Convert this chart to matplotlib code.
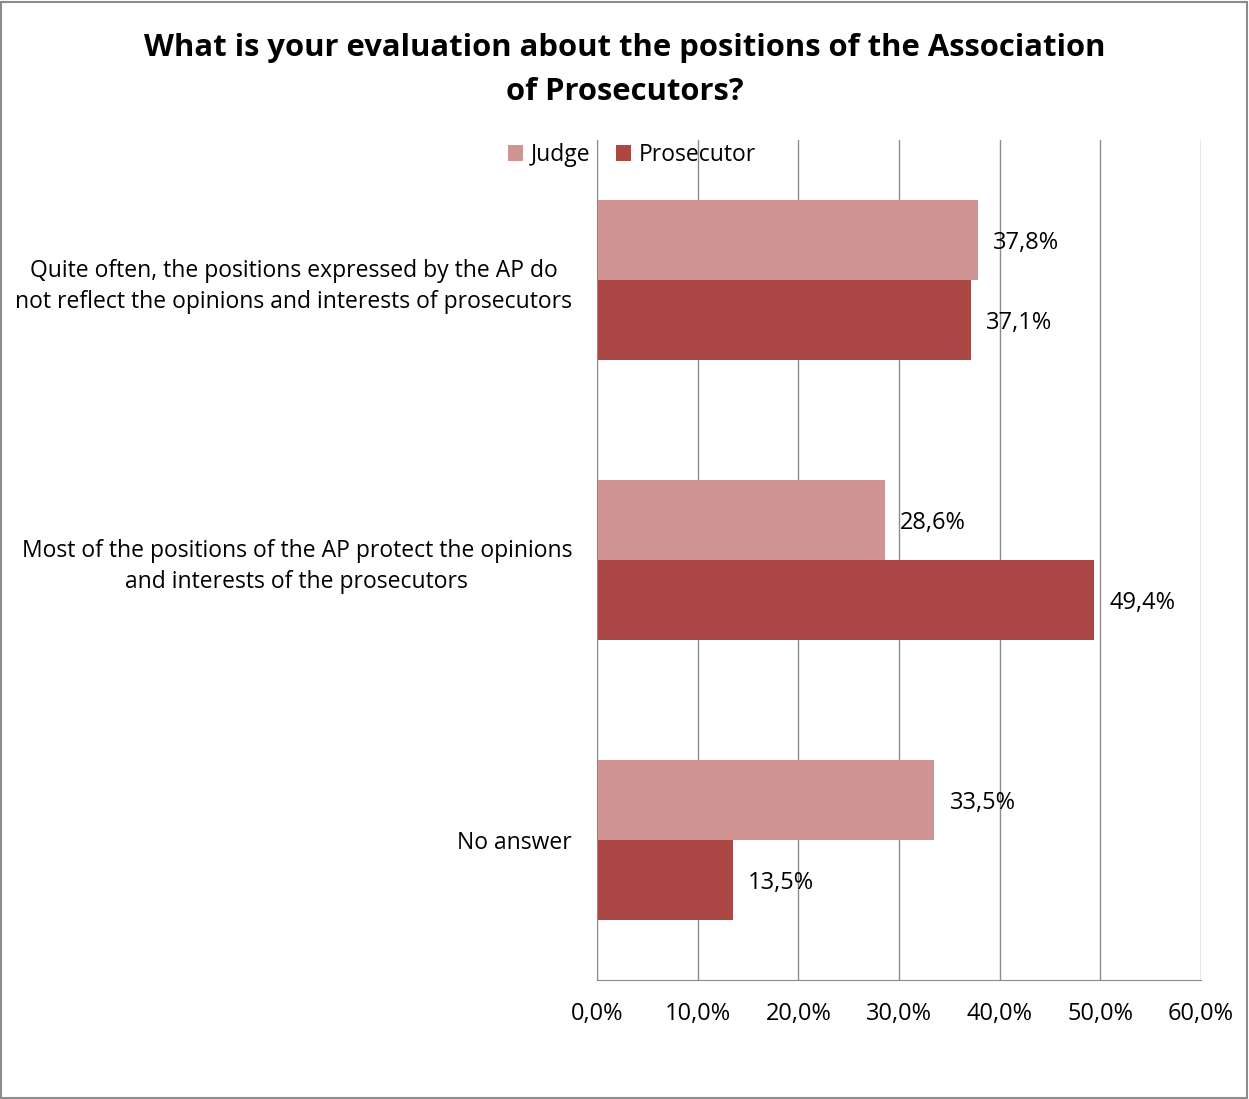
import matplotlib.pyplot as plt
import numpy as np
from matplotlib.patches import Rectangle

plt.rcParams['font.family'] = ['Open Sans', 'DejaVu Sans']

categories = ["Quite often, the positions expressed by the AP do\nnot reflect the opinions and interests of prosecutors",
              "Most of the positions of the AP protect the opinions\nand interests of the prosecutors",
              "No answer"]
judge = [37.8, 28.6, 33.5]
prosecutor = [37.1, 49.4, 13.5]
xticks = [0, 10, 20, 30, 40, 50, 60]

c_judge = '#D09493'
c_pros = '#AB4745'

fig = plt.figure(figsize=(12.49, 10.99), dpi=100)
fig.patches.append(Rectangle((0.001, 0.001), 0.997, 0.997, transform=fig.transFigure,
                             fill=False, edgecolor='#8c8c8c', linewidth=1.5))
ax = fig.add_axes([0.478, 0.1083, 0.4836, 0.7643])

y = np.arange(len(categories))
h = 80 / 280
ax.barh(y - h / 2, judge, height=h, color=c_judge, label='Judge')
ax.barh(y + h / 2, prosecutor, height=h, color=c_pros, label='Prosecutor')

for i in range(len(categories)):
    ax.annotate(f"{judge[i]:.1f}%".replace('.', ','), (judge[i], y[i] - h / 2),
                xytext=(11, -2), textcoords='offset points', va='center', ha='left', fontsize=17)
    ax.annotate(f"{prosecutor[i]:.1f}%".replace('.', ','), (prosecutor[i], y[i] + h / 2),
                xytext=(11, -2), textcoords='offset points', va='center', ha='left', fontsize=17)

ax.set_xlim(0, 60)
ax.set_ylim(2.5, -0.5)
ax.set_xticks(xticks)
ax.set_xticklabels([f"{v:.1f}%".replace('.', ',') for v in xticks], fontsize=17)
ax.set_yticks(y)
ax.set_yticklabels(categories, fontsize=16.5, multialignment='center', linespacing=1.4)
ax.tick_params(length=0, pad=16, axis='x')
ax.tick_params(length=0, pad=18, axis='y')
ax.grid(axis='x', color='#8c8c8c', linewidth=1)
ax.set_axisbelow(True)
for s in ['top', 'right']:
    ax.spines[s].set_visible(False)
for s in ['left', 'bottom']:
    ax.spines[s].set_color('#8c8c8c')

fig.text(0.5, 0.9366, "What is your evaluation about the positions of the Association\nof Prosecutors?",
         ha='center', va='center', fontsize=22.3, fontweight='bold', linespacing=1.6)

fig.legend(loc='center', bbox_to_anchor=(632 / 1249, 1 - 155 / 1099), ncol=2, frameon=False,
           fontsize=16.5, handlelength=0.65, handleheight=0.65, handletextpad=0.35, columnspacing=1.1)

fig.savefig('out.png', dpi=100)
